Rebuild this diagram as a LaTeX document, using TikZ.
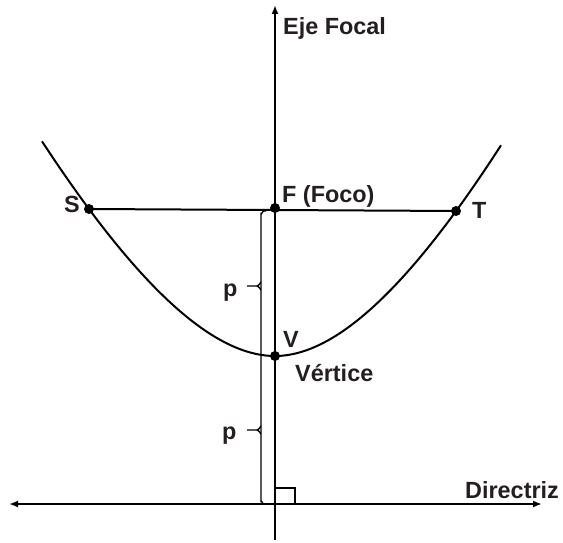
\documentclass[tikz,border=0pt]{standalone}
\usepackage{fontspec}
\setmainfont{Liberation Sans}
\usetikzlibrary{arrows.meta}
\definecolor{tinta}{RGB}{35,31,32}
\tikzset{
  etiq/.style={inner sep=0pt, text=tinta, font=\fontsize{23.5}{26}\selectfont\bfseries},
  punto/.style={circle, fill=black, inner sep=0pt, minimum size=10bp},
  trazo/.style={line width=2bp},
  fino/.style={line width=1.4bp},
  flecha/.style={-{Latex[length=9bp,width=7bp]}},
}

\begin{document}
\begin{tikzpicture}[x=1bp, y=-1bp]
\useasboundingbox (0,0) rectangle (563,543);

% Puntos principales
\coordinate (F) at (275,208);
\coordinate (V) at (275,356);
\coordinate (S) at (89,209);
\coordinate (T) at (456,211);
\coordinate (O) at (275,504);

% Eje focal y directriz
\coordinate (ejeAbajo) at (275,540);
\coordinate (ejeArriba) at (275,5);
\coordinate (dirIzq) at (9,504);
\coordinate (dirDer) at (542,504);
\draw[trazo, flecha] (ejeAbajo) -- (ejeArriba);
\draw[trazo, {Latex[length=9bp,width=7bp]}-{Latex[length=9bp,width=7bp]}] (dirIzq) -- (dirDer);

% Parabola
\draw[trazo] plot[domain=-233:226, samples=120, smooth]
  ({275+\x}, {356-(\x<0 ? 60.24 : 62.2)*(\x/100)*(\x/100)/(1+0.2246*abs(\x/100))});

% Lado recto
\draw[trazo] (S) -- (T);

% Llave de las distancias p
\draw[fino] (266,211) -- (264,211) to[out=180,in=-90] (261,214) -- (261,501)
  to[out=90,in=180] (264,504) -- (266,504);
\foreach \y in {286,430}{
  \draw[fino] (247,\y) -- (257,\y) to[out=0,in=90] (261,\y-3);
  \draw[fino] (257,\y) to[out=0,in=-90] (261,\y+3);
}

% Angulo recto
\draw[fino] (O) ++(0,-16) -| (295,504);

% Puntos
\foreach \p in {F,V,S,T}{
  \node[punto] (d\p) at (\p) {};
}

% Etiquetas
\node[etiq, anchor=base west] (lblEje) at (283,35) {Eje Focal};
\node[etiq, anchor=base west] (lblF) at (282,203) {F (Foco)};
\node[etiq, anchor=base east] (lblS) at (80,213) {S};
\node[etiq, anchor=base west] (lblT) at (472,219) {T};
\node[etiq, anchor=base west] (lblV) at (283,347) {V};
\node[etiq, anchor=base west] (lblVert) at (295,381) {Vértice};
\node[etiq, anchor=base west] (lblP1) at (223,296) {p};
\node[etiq, anchor=base west] (lblP2) at (222,439) {p};
\node[etiq, anchor=base west] (lblDir) at (465,498) {Directriz};

\end{tikzpicture}
\end{document}
